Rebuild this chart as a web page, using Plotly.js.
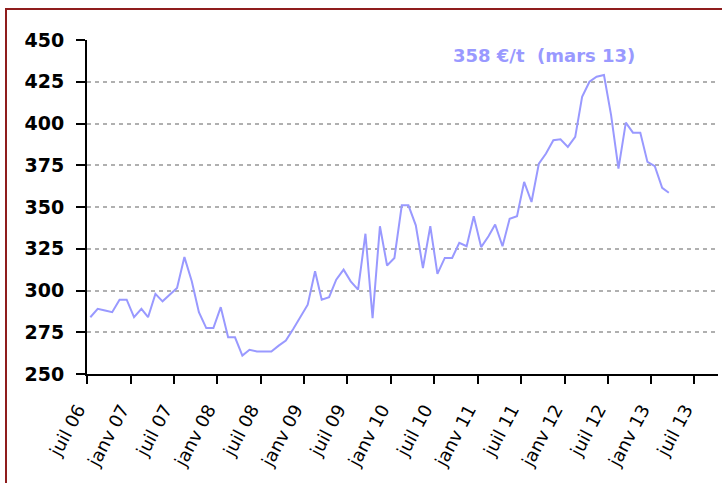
<!DOCTYPE html>
<html>
<head>
<meta charset="utf-8">
<script src="https://cdn.plot.ly/plotly-3.0.1.min.js"></script>
<style>
  html, body { margin: 0; padding: 0; background: #ffffff; }
  #wrap { position: relative; width: 722px; height: 483px; overflow: hidden; }
  #chart { width: 722px; height: 483px; }
  #frame { position: absolute; left: 5px; top: 8px; width: 800px; height: 600px;
           border-left: 2px solid #8f1d1d; border-top: 2px solid #8f1d1d; pointer-events: none; }
</style>
</head>
<body>
<div id="wrap">
  <div id="chart"></div>
  <div id="frame"></div>
</div>
<script>
// Monthly series, July 2006 to March 2013 (€/t)
const startYear = 2006;
const startMonth = 7;
const prices = [
  284, 289, 288, 287, 294.5, 294.5,          // juil-déc 06
  284, 289, 284, 298, 293.5, 297.5,          // janv-juin 07
  301.5, 320, 305.5, 287, 277.5, 277.5,      // juil-déc 07
  290, 272, 272, 261, 264.5, 263.5,          // janv-juin 08
  263.5, 263.5, 267, 270, 277, 284.5,        // juil-déc 08
  291.5, 311.5, 294.5, 296, 306.5, 312.5,    // janv-juin 09
  305.5, 300.5, 334, 283.5, 338.5, 315,      // juil-déc 09
  319.5, 351, 351, 339, 313.5, 338.5,        // janv-juin 10
  310, 319.5, 319.5, 328.5, 326.5, 344.5,    // juil-déc 10
  326, 332.5, 339.5, 326.5, 343, 344.5,      // janv-juin 11
  365, 353, 376, 382, 390, 390.5,            // juil-déc 11
  386, 392, 416, 425, 428, 429,              // janv-juin 12
  405, 373, 400.5, 394.5, 394.5, 377,        // juil-déc 12
  374.5, 361.5, 358.5                        // janv-mars 13
];

// Month dates (mid-month) for each value
const months = prices.map((_, i) => {
  const m0 = startMonth - 1 + i;
  const y = startYear + Math.floor(m0 / 12);
  const m = (m0 % 12) + 1;
  return y + '-' + String(m).padStart(2, '0') + '-15';
});

const tickDates = [
  '2006-07-01', '2007-01-01', '2007-07-01', '2008-01-01', '2008-07-01',
  '2009-01-01', '2009-07-01', '2010-01-01', '2010-07-01', '2011-01-01',
  '2011-07-01', '2012-01-01', '2012-07-01', '2013-01-01', '2013-07-01'
];
const tickLabels = [
  'juil 06', 'janv 07', 'juil 07', 'janv 08', 'juil 08',
  'janv 09', 'juil 09', 'janv 10', 'juil 10', 'janv 11',
  'juil 11', 'janv 12', 'juil 12', 'janv 13', 'juil 13'
];
const yTicks = [250, 275, 300, 325, 350, 375, 400, 425, 450];
const noteText = '358 €/t\u00a0 (mars 13)';

const trace = {
  x: months,
  y: prices,
  type: 'scatter',
  mode: 'lines',
  line: { color: '#9999ff', width: 2 },
  hoverinfo: 'skip'
};

const layout = {
  width: 722,
  height: 483,
  margin: { l: 87, r: 4, t: 40, b: 109 },
  paper_bgcolor: '#ffffff',
  plot_bgcolor: '#ffffff',
  showlegend: false,
  xaxis: {
    type: 'date',
    range: ['2006-07-01', '2013-10-08'],
    tickmode: 'array',
    tickvals: tickDates,
    ticktext: tickLabels,
    tickangle: -62,
    ticks: 'outside',
    ticklen: 8,
    tickwidth: 2,
    tickcolor: '#000000',
    showline: true,
    linecolor: '#000000',
    linewidth: 2,
    showgrid: false,
    zeroline: false,
    ticklabelstandoff: 8,
    ticklabelshift: -9,
    tickfont: { family: 'DejaVu Sans, Arial, sans-serif', size: 18, color: '#000000' }
  },
  yaxis: {
    range: [250, 450],
    tickmode: 'array',
    tickvals: yTicks,
    ticktext: yTicks.map(String),
    ticks: 'outside',
    ticklen: 9,
    tickwidth: 2,
    tickcolor: '#000000',
    showline: true,
    linecolor: '#000000',
    linewidth: 2,
    showgrid: true,
    gridcolor: '#b0b0b0',
    gridwidth: 2,
    griddash: '4px,4px',
    zeroline: false,
    ticklabelstandoff: 8,
    tickfont: { family: 'DejaVu Sans, Arial, sans-serif', size: 19, color: '#000000', weight: 'bold' }
  },
  annotations: [{
    xref: 'paper', yref: 'paper',
    x: 0.724, y: 0.955,
    xanchor: 'center', yanchor: 'middle',
    text: noteText,
    showarrow: false,
    font: { family: 'DejaVu Sans, Arial, sans-serif', size: 18, color: '#9999ff', weight: 'bold' }
  }]
};

Plotly.newPlot('chart', [trace], layout, { staticPlot: true, displayModeBar: false });
</script>
</body>
</html>
